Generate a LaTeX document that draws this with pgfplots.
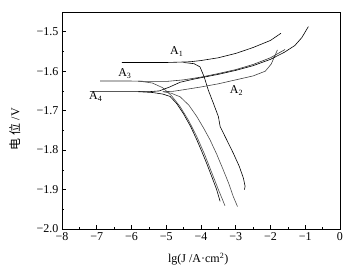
\documentclass[border=0pt]{standalone}
\usepackage{fontspec}
\setmainfont{Liberation Serif}
\newfontfamily\cjk{Noto Sans CJK SC}
\usepackage{pgfplots}
\pgfplotsset{compat=1.18}
\begin{document}
\begin{tikzpicture}
\begin{axis}[
  scale only axis, width=278pt, height=217pt,
  xmin=-8, xmax=0, ymin=-2.0, ymax=-1.45,
  xtick={-8,-7,-6,-5,-4,-3,-2,-1,0},
  xticklabels={−8,−7,−6,−5,−4,−3,−2,−1,0},
  ytick={-2.0,-1.9,-1.8,-1.7,-1.6,-1.5},
  yticklabels={−2.0,−1.9,−1.8,−1.7,−1.6,−1.5},
  minor x tick num=1, minor y tick num=1,
  tick align=inside, xtick pos=bottom, ytick pos=left,
  major tick length=4pt, minor tick length=2.5pt,
  tick style={black, line width=0.6pt},
  axis line style={line width=0.7pt},
  ticklabel style={font=\fontsize{12}{14}\selectfont},
  xlabel={lg(J /A·cm\textsuperscript{2})},
  ylabel={{\cjk 电 位} /V},
  label style={font=\fontsize{12}{14}\selectfont},
  xlabel style={at={(axis description cs:0.49,-0.138)}, anchor=center},
  ylabel style={at={(axis description cs:-0.17,0.46)}, anchor=center},
  every axis plot/.append style={line width=0.6pt, black!85},
]
% A1 flat + anodic
\addplot[black] coordinates {(-6.28,-1.578) (-5.5,-1.578) (-5,-1.578) (-4.6,-1.577) (-4.3,-1.576) (-4.0,-1.573) (-3.5,-1.566) (-3,-1.555) (-2.5,-1.540) (-2,-1.522) (-1.7,-1.504)};
% A1 cathodic
\addplot[black] coordinates {(-4.5,-1.578) (-4.2,-1.581) (-4.03,-1.589) (-3.91,-1.614) (-3.79,-1.648) (-3.645,-1.681) (-3.50,-1.715) (-3.45,-1.740) (-3.26,-1.774) (-3.07,-1.808) (-2.90,-1.841) (-2.78,-1.871) (-2.73,-1.892) (-2.75,-1.90)};
% A2 anodic
\addplot[black!75] coordinates {(-5.1,-1.652) (-4.8,-1.651) (-4.5,-1.647) (-4,-1.640) (-3.5,-1.632) (-3,-1.622) (-2.5,-1.612) (-2.15,-1.600) (-1.98,-1.582) (-1.88,-1.562) (-1.80,-1.546)};
% A2 cathodic
\addplot[black!70] coordinates {(-5.1,-1.652) (-4.85,-1.656) (-4.60,-1.665) (-4.35,-1.686) (-4.12,-1.715) (-3.92,-1.745) (-3.74,-1.774) (-3.55,-1.810) (-3.36,-1.850) (-3.20,-1.885) (-3.07,-1.918) (-2.95,-1.943)};
% A3 flat + anodic
\addplot[black!80] coordinates {(-6.9,-1.625) (-6,-1.625) (-5.5,-1.626) (-5,-1.626) (-4.5,-1.622) (-4,-1.615) (-3.5,-1.606) (-3,-1.596) (-2.5,-1.583) (-2,-1.566) (-1.58,-1.545)};
% A3 cathodic
\addplot[black!70] coordinates {(-5.8,-1.625) (-5.4,-1.630) (-5.1,-1.642) (-4.85,-1.662) (-4.6,-1.690) (-4.35,-1.726) (-4.12,-1.766) (-3.90,-1.810) (-3.70,-1.855) (-3.50,-1.900) (-3.31,-1.941)};
% A4 flat + anodic
\addplot[black] coordinates {(-7.2,-1.652) (-6.5,-1.652) (-6,-1.652) (-5.5,-1.652) (-5.2,-1.650) (-4.9,-1.640) (-4.6,-1.628) (-4.2,-1.620) (-3.5,-1.608) (-3,-1.598) (-2.5,-1.586) (-2,-1.570) (-1.6,-1.552) (-1.3,-1.535) (-1.1,-1.515) (-0.91,-1.487)};
% A4 cathodic
\addplot[black] coordinates {(-5.8,-1.652) (-5.4,-1.654) (-5.1,-1.658) (-4.89,-1.664) (-4.70,-1.682) (-4.51,-1.707) (-4.30,-1.740) (-4.12,-1.774) (-3.98,-1.803) (-3.84,-1.833) (-3.70,-1.865) (-3.55,-1.900) (-3.45,-1.930)};
\node[font=\fontsize{12}{14}\selectfont] at (axis cs:-4.70,-1.550) {A\textsubscript{1}};
\node[font=\fontsize{12}{14}\selectfont] at (axis cs:-2.98,-1.650) {A\textsubscript{2}};
\node[font=\fontsize{12}{14}\selectfont] at (axis cs:-6.19,-1.607) {A\textsubscript{3}};
\node[font=\fontsize{12}{14}\selectfont] at (axis cs:-7.03,-1.665) {A\textsubscript{4}};
\coordinate (bl) at (rel axis cs:0,0);
\coordinate (tr) at (rel axis cs:1,1);
\end{axis}
\pgfresetboundingbox
\path[use as bounding box] ([shift={(-62pt,-43pt)}]bl) rectangle ([shift={(9pt,12pt)}]tr);
\end{tikzpicture}
\end{document}
